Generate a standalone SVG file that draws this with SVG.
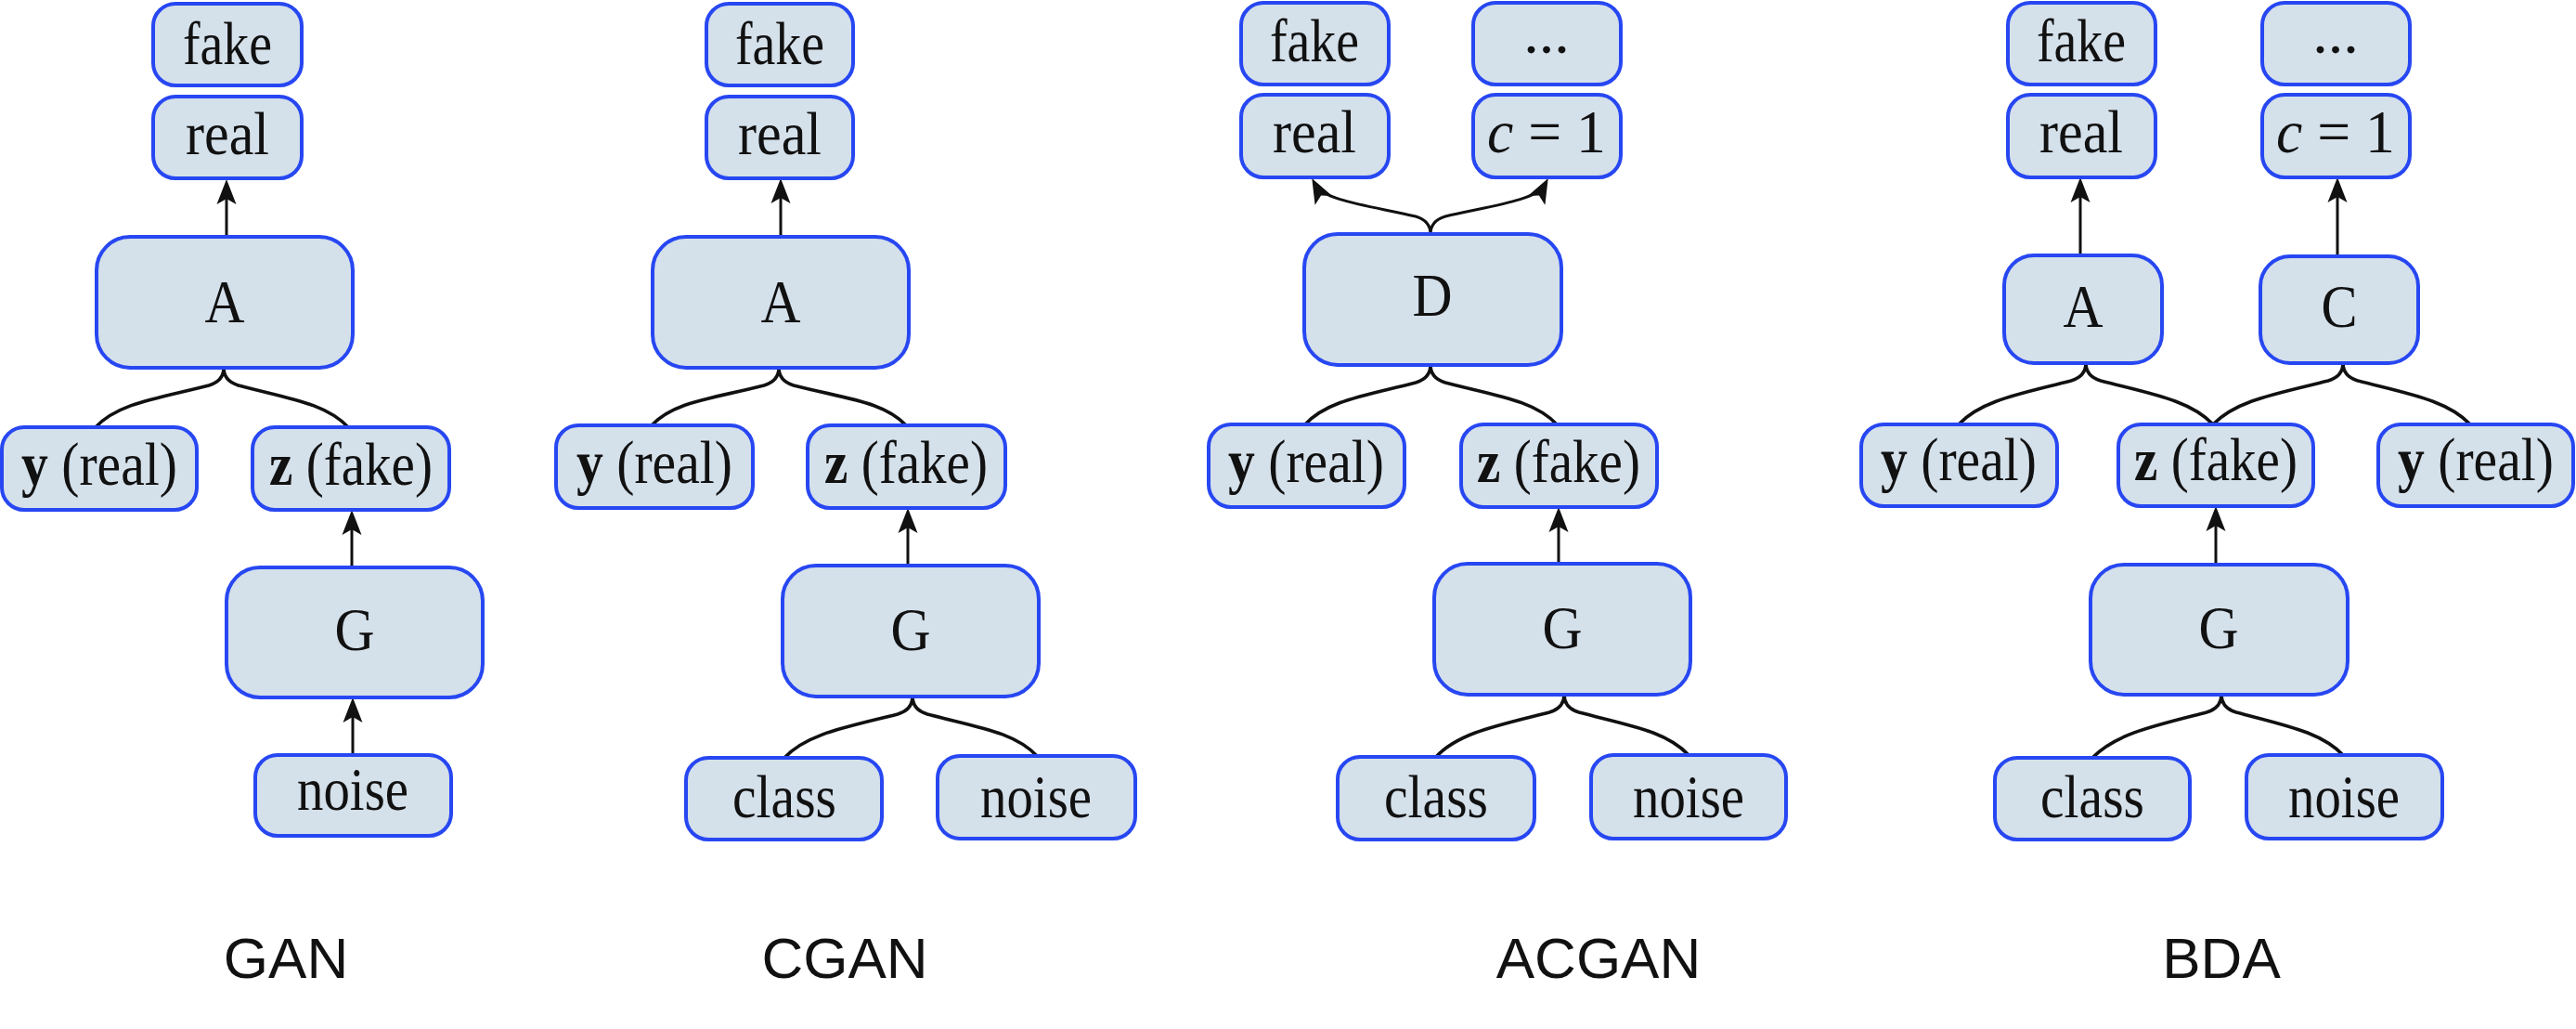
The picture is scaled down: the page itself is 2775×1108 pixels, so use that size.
<svg xmlns="http://www.w3.org/2000/svg" width="2775" height="1108" viewBox="0 0 2775 1108">
<style>
.b{fill:#d4e0ea;stroke:#2747f2;stroke-width:4}
.t{font-family:"Liberation Serif","Times New Roman",serif;font-size:66px;fill:#111;text-anchor:middle}
.bd{font-weight:bold}
.it{font-style:italic}
.ttl{font-family:"Liberation Sans",Arial,sans-serif;font-size:62px;fill:#111;text-anchor:middle}
.c{fill:none;stroke:#111;stroke-width:3.6}
.a{fill:none;stroke:#111;stroke-width:3;marker-end:url(#ah)}
</style>
<defs>
<marker id="ah" markerUnits="userSpaceOnUse" viewBox="-30 -12 32 24" markerWidth="32" markerHeight="24" refX="-8" refY="0" orient="auto">
<path d="M0,0 L-27,-10.5 L-21,0 L-27,10.5 Z" fill="#111"/>
</marker>
</defs>
<rect width="2775" height="1108" fill="#fff"/>

<g id="connectors">
<!-- GAN -->
<path class="a" d="M244,255 L244,201"/>
<path class="a" d="M379,611 L379,557"/>
<path class="a" d="M380,813 L380,759"/>
<path class="c" d="M241,396 C241,406 235,412 225,415 C170,429 127,434 103,460"/>
<path class="c" d="M241,396 C241,406 247,412 257,415 C310,429 351,434 375,460"/>
<!-- CGAN -->
<path class="a" d="M841,255 L841,200"/>
<path class="a" d="M978,609 L978,555"/>
<path class="c" d="M839,396 C839,406 833,412 823,415 C769,429 726,432 702,458"/>
<path class="c" d="M839,396 C839,406 845,412 855,415 C909,429 952,432 976,458"/>
<path class="c" d="M983,750 C983,760 977,766 967,769 C912,783 869,790 845,816"/>
<path class="c" d="M983,750 C983,760 989,766 999,769 C1052,783 1093,788 1117,814"/>
<!-- ACGAN -->
<path class="a" d="M1541,252 C1541,242 1535,236 1525,233 C1478,222 1426,216 1417,199"/>
<path class="a" d="M1541,252 C1541,242 1547,236 1557,233 C1604,222 1655,216 1664,199"/>
<path class="a" d="M1679,607 L1679,554"/>
<path class="c" d="M1541,393 C1541,403 1535,409 1525,412 C1471,426 1430,431 1406,457"/>
<path class="c" d="M1541,393 C1541,403 1547,409 1557,412 C1611,426 1653,431 1677,457"/>
<path class="c" d="M1685,748 C1685,758 1679,764 1669,767 C1614,781 1571,789 1547,815"/>
<path class="c" d="M1685,748 C1685,758 1691,764 1701,767 C1754,781 1795,787 1819,813"/>
<!-- BDA -->
<path class="a" d="M2241,275 L2241,199"/>
<path class="a" d="M2518,276 L2518,199"/>
<path class="a" d="M2387,608 L2387,553"/>
<path class="c" d="M2247,391 C2247,401 2241,407 2231,410 C2177,424 2134,431 2110,457"/>
<path class="c" d="M2247,391 C2247,401 2253,407 2263,410 C2317,424 2360,431 2384,457"/>
<path class="c" d="M2524,391 C2524,401 2518,407 2508,410 C2452,424 2409,431 2384,457"/>
<path class="c" d="M2524,391 C2524,401 2530,407 2540,410 C2594,424 2637,431 2661,457"/>
<path class="c" d="M2393,748 C2393,758 2387,764 2377,767 C2322,781 2279,790 2254,816"/>
<path class="c" d="M2393,748 C2393,758 2399,764 2409,767 C2461,781 2501,788 2525,814"/>
</g>

<!-- GAN -->
<g id="gan-fake"><rect class="b" x="165" y="4" width="160" height="88" rx="24"/><text class="t" x="245" y="69" textLength="96" lengthAdjust="spacingAndGlyphs">fake</text></g>
<g id="gan-real"><rect class="b" x="165" y="104" width="160" height="88" rx="24"/><text class="t" x="245" y="166" textLength="90" lengthAdjust="spacingAndGlyphs">real</text></g>
<g id="gan-A"><rect class="b" x="104" y="255" width="276" height="141" rx="36"/><text class="t" x="242" y="347" textLength="43" lengthAdjust="spacingAndGlyphs">A</text></g>
<g id="gan-y"><rect class="b" x="2" y="460" width="210" height="89" rx="24"/><text class="t" x="107" y="522" textLength="168" lengthAdjust="spacingAndGlyphs"><tspan class="bd">y</tspan> (real)</text></g>
<g id="gan-z"><rect class="b" x="272" y="460" width="212" height="89" rx="24"/><text class="t" x="378" y="522" textLength="176" lengthAdjust="spacingAndGlyphs"><tspan class="bd">z</tspan> (fake)</text></g>
<g id="gan-G"><rect class="b" x="244" y="611" width="276" height="140" rx="36"/><text class="t" x="382" y="700" textLength="43" lengthAdjust="spacingAndGlyphs">G</text></g>
<g id="gan-noise"><rect class="b" x="275" y="813" width="211" height="87" rx="24"/><text class="t" x="380" y="872" textLength="120" lengthAdjust="spacingAndGlyphs">noise</text></g>

<!-- CGAN -->
<g id="cgan-fake"><rect class="b" x="761" y="4" width="158" height="88" rx="24"/><text class="t" x="840" y="69" textLength="96" lengthAdjust="spacingAndGlyphs">fake</text></g>
<g id="cgan-real"><rect class="b" x="761" y="104" width="158" height="88" rx="24"/><text class="t" x="840" y="166" textLength="90" lengthAdjust="spacingAndGlyphs">real</text></g>
<g id="cgan-A"><rect class="b" x="703" y="255" width="276" height="141" rx="36"/><text class="t" x="841" y="347" textLength="43" lengthAdjust="spacingAndGlyphs">A</text></g>
<g id="cgan-y"><rect class="b" x="599" y="458" width="212" height="89" rx="24"/><text class="t" x="705" y="520" textLength="168" lengthAdjust="spacingAndGlyphs"><tspan class="bd">y</tspan> (real)</text></g>
<g id="cgan-z"><rect class="b" x="870" y="458" width="213" height="89" rx="24"/><text class="t" x="976" y="520" textLength="176" lengthAdjust="spacingAndGlyphs"><tspan class="bd">z</tspan> (fake)</text></g>
<g id="cgan-G"><rect class="b" x="843" y="609" width="276" height="141" rx="36"/><text class="t" x="981" y="700" textLength="43" lengthAdjust="spacingAndGlyphs">G</text></g>
<g id="cgan-class"><rect class="b" x="739" y="816" width="211" height="88" rx="24"/><text class="t" x="845" y="880" textLength="112" lengthAdjust="spacingAndGlyphs">class</text></g>
<g id="cgan-noise"><rect class="b" x="1010" y="814" width="213" height="89" rx="24"/><text class="t" x="1116" y="880" textLength="120" lengthAdjust="spacingAndGlyphs">noise</text></g>

<!-- ACGAN -->
<g id="acgan-fake"><rect class="b" x="1337" y="3" width="159" height="88" rx="24"/><text class="t" x="1416" y="66" textLength="96" lengthAdjust="spacingAndGlyphs">fake</text></g>
<g id="acgan-real"><rect class="b" x="1337" y="102" width="159" height="89" rx="24"/><text class="t" x="1416" y="164" textLength="90" lengthAdjust="spacingAndGlyphs">real</text></g>
<g id="acgan-dots"><rect class="b" x="1587" y="3" width="159" height="88" rx="24"/><text class="t" x="1666" y="57">...</text></g>
<g id="acgan-c1"><rect class="b" x="1587" y="102" width="159" height="89" rx="24"/><text class="t" x="1666" y="164" textLength="128" lengthAdjust="spacingAndGlyphs"><tspan class="it">c</tspan> = 1</text></g>
<g id="acgan-D"><rect class="b" x="1405" y="252" width="277" height="141" rx="36"/><text class="t" x="1543" y="340" textLength="43" lengthAdjust="spacingAndGlyphs">D</text></g>
<g id="acgan-y"><rect class="b" x="1302" y="457" width="211" height="89" rx="24"/><text class="t" x="1407" y="519" textLength="168" lengthAdjust="spacingAndGlyphs"><tspan class="bd">y</tspan> (real)</text></g>
<g id="acgan-z"><rect class="b" x="1574" y="457" width="211" height="89" rx="24"/><text class="t" x="1679" y="519" textLength="176" lengthAdjust="spacingAndGlyphs"><tspan class="bd">z</tspan> (fake)</text></g>
<g id="acgan-G"><rect class="b" x="1545" y="607" width="276" height="141" rx="36"/><text class="t" x="1683" y="698" textLength="43" lengthAdjust="spacingAndGlyphs">G</text></g>
<g id="acgan-class"><rect class="b" x="1441" y="815" width="212" height="89" rx="24"/><text class="t" x="1547" y="880" textLength="112" lengthAdjust="spacingAndGlyphs">class</text></g>
<g id="acgan-noise"><rect class="b" x="1714" y="813" width="210" height="90" rx="24"/><text class="t" x="1819" y="880" textLength="120" lengthAdjust="spacingAndGlyphs">noise</text></g>

<!-- BDA -->
<g id="bda-fake"><rect class="b" x="2163" y="3" width="159" height="88" rx="24"/><text class="t" x="2242" y="66" textLength="96" lengthAdjust="spacingAndGlyphs">fake</text></g>
<g id="bda-real"><rect class="b" x="2163" y="102" width="159" height="89" rx="24"/><text class="t" x="2242" y="164" textLength="90" lengthAdjust="spacingAndGlyphs">real</text></g>
<g id="bda-dots"><rect class="b" x="2437" y="3" width="159" height="88" rx="24"/><text class="t" x="2516" y="57">...</text></g>
<g id="bda-c1"><rect class="b" x="2437" y="102" width="159" height="89" rx="24"/><text class="t" x="2516" y="164" textLength="128" lengthAdjust="spacingAndGlyphs"><tspan class="it">c</tspan> = 1</text></g>
<g id="bda-A"><rect class="b" x="2159" y="275" width="170" height="116" rx="32"/><text class="t" x="2244" y="352" textLength="43" lengthAdjust="spacingAndGlyphs">A</text></g>
<g id="bda-C"><rect class="b" x="2435" y="276" width="170" height="115" rx="32"/><text class="t" x="2520" y="352" textLength="39" lengthAdjust="spacingAndGlyphs">C</text></g>
<g id="bda-y1"><rect class="b" x="2005" y="457" width="211" height="88" rx="24"/><text class="t" x="2110" y="517" textLength="168" lengthAdjust="spacingAndGlyphs"><tspan class="bd">y</tspan> (real)</text></g>
<g id="bda-z"><rect class="b" x="2282" y="457" width="210" height="88" rx="24"/><text class="t" x="2387" y="517" textLength="176" lengthAdjust="spacingAndGlyphs"><tspan class="bd">z</tspan> (fake)</text></g>
<g id="bda-y2"><rect class="b" x="2562" y="457" width="210" height="88" rx="24"/><text class="t" x="2667" y="517" textLength="168" lengthAdjust="spacingAndGlyphs"><tspan class="bd">y</tspan> (real)</text></g>
<g id="bda-G"><rect class="b" x="2252" y="608" width="277" height="140" rx="36"/><text class="t" x="2390" y="698" textLength="43" lengthAdjust="spacingAndGlyphs">G</text></g>
<g id="bda-class"><rect class="b" x="2149" y="816" width="210" height="88" rx="24"/><text class="t" x="2254" y="880" textLength="112" lengthAdjust="spacingAndGlyphs">class</text></g>
<g id="bda-noise"><rect class="b" x="2420" y="813" width="211" height="90" rx="24"/><text class="t" x="2525" y="880" textLength="120" lengthAdjust="spacingAndGlyphs">noise</text></g>

<g id="titles">
<text class="ttl" x="308" y="1053">GAN</text>
<text class="ttl" x="910" y="1053">CGAN</text>
<text class="ttl" x="1722" y="1053">ACGAN</text>
<text class="ttl" x="2393" y="1053">BDA</text>
</g>
</svg>
